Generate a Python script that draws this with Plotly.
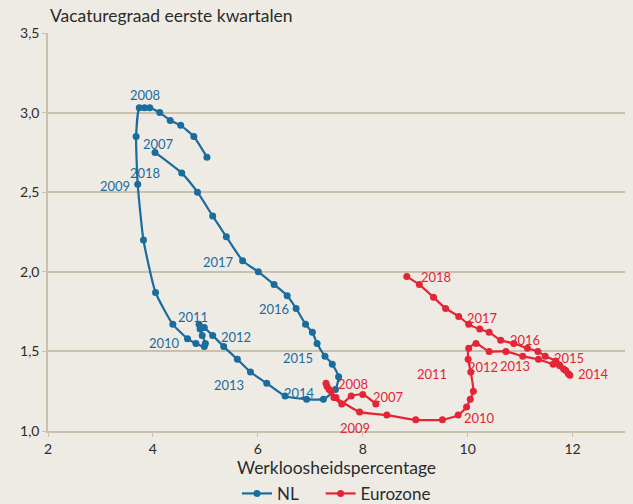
import plotly.graph_objects as go

# NL: werkloosheid (x) en vacaturegraad (y), chronologisch
nl_x = [5.03, 4.78, 4.53, 4.33, 4.13, 3.94, 3.84, 3.74, 3.68, 3.71, 3.82, 4.05, 4.38, 4.66, 4.82, 4.98,
        5.00, 4.94, 4.90, 4.88, 4.98, 5.14, 5.35, 5.61, 5.86, 6.17, 6.52, 6.93, 7.25, 7.48, 7.54, 7.42,
        7.28, 7.13, 7.04, 6.91, 6.73, 6.56, 6.31, 6.01, 5.71, 5.40, 5.14, 4.85, 4.55, 4.04]
nl_y = [2.72, 2.85, 2.92, 2.95, 3.00, 3.03, 3.03, 3.03, 2.85, 2.55, 2.20, 1.87, 1.67, 1.58, 1.55, 1.53,
        1.55, 1.60, 1.64, 1.67, 1.65, 1.60, 1.53, 1.45, 1.37, 1.30, 1.22, 1.20, 1.20, 1.26, 1.34, 1.42,
        1.47, 1.55, 1.62, 1.67, 1.77, 1.85, 1.92, 2.00, 2.07, 2.22, 2.35, 2.50, 2.62, 2.75]

# Eurozone
ez_x = [8.25, 8.00, 7.78, 7.60, 7.45, 7.36, 7.30, 7.32, 7.40, 7.49, 7.94, 8.46, 9.01, 9.52, 9.82, 9.98,
        10.05, 10.11, 10.06, 10.01, 10.02, 10.16, 10.41, 10.73, 11.05, 11.35, 11.63, 11.75, 11.83, 11.92,
        11.95, 11.87, 11.76, 11.68, 11.48, 11.34, 11.14, 10.88, 10.63, 10.41, 10.23, 10.02, 9.83, 9.58,
        9.35, 9.08, 8.84]
ez_y = [1.17, 1.23, 1.22, 1.17, 1.21, 1.26, 1.30, 1.28, 1.25, 1.21, 1.12, 1.10, 1.07, 1.07, 1.10, 1.15,
        1.20, 1.25, 1.37, 1.45, 1.52, 1.55, 1.50, 1.50, 1.47, 1.45, 1.42, 1.415, 1.39, 1.36,
        1.35, 1.38, 1.41, 1.44, 1.47, 1.50, 1.52, 1.55, 1.57, 1.62, 1.64, 1.67, 1.72, 1.77,
        1.84, 1.92, 1.97]

# Jaarlabels
nl_lbl_text = ["2008", "2007", "2018", "2009", "2017", "2011", "2010", "2012", "2013", "2016", "2015", "2014"]
nl_lbl_x = [3.85, 4.10, 3.84, 3.28, 5.25, 4.77, 4.22, 5.59, 5.46, 6.30, 6.76, 6.79]
nl_lbl_y = [3.108, 2.80, 2.62, 2.54, 2.06, 1.715, 1.555, 1.59, 1.29, 1.765, 1.46, 1.24]

ez_lbl_text = ["2008", "2007", "2009", "2011", "2012", "2010", "2013", "2014", "2015", "2016", "2017", "2018"]
ez_lbl_x = [7.81, 8.49, 7.85, 9.33, 10.29, 10.23, 10.91, 12.39, 11.94, 11.09, 10.29, 9.39]
ez_lbl_y = [1.296, 1.216, 1.02, 1.36, 1.40, 1.08, 1.41, 1.36, 1.46, 1.57, 1.71, 1.97]

x_ticks = [2, 4, 6, 8, 10, 12]
y_ticks = [1.0, 1.5, 2.0, 2.5, 3.0, 3.5]

BLUE = "#1a6c9c"
RED = "#e42535"
BG = "#eeebe5"
GRID = "#c9c0ae"
TXT = "#2b2b2b"
FONT = "Lato"

fig = go.Figure()
fig.add_trace(go.Scatter(x=nl_x, y=nl_y, mode="lines+markers", name="NL\u00a0\u00a0\u00a0\u00a0",
                         line=dict(color=BLUE, width=2.2, shape="spline", smoothing=0.5),
                         marker=dict(color=BLUE, size=7)))
fig.add_trace(go.Scatter(x=ez_x, y=ez_y, mode="lines+markers", name="Eurozone",
                         line=dict(color=RED, width=2.2, shape="spline", smoothing=0.5),
                         marker=dict(color=RED, size=7)))

anns = []
for t, x, y in zip(nl_lbl_text, nl_lbl_x, nl_lbl_y):
    anns.append(dict(x=x, y=y, text=t, showarrow=False, xref="x", yref="y",
                     font=dict(family=FONT, size=13, color=BLUE)))
for t, x, y in zip(ez_lbl_text, ez_lbl_x, ez_lbl_y):
    anns.append(dict(x=x, y=y, text=t, showarrow=False, xref="x", yref="y",
                     font=dict(family=FONT, size=13, color=RED)))
anns.append(dict(x=0, y=1, xref="paper", yref="paper", xanchor="left", yanchor="bottom",
                 yshift=5, text="Vacaturegraad eerste kwartalen", showarrow=False,
                 font=dict(family=FONT, size=17.5, color=TXT)))
anns.append(dict(x=0.5, y=-0.0905, xref="paper", yref="paper", xanchor="center", yanchor="middle",
                 text="Werkloosheidspercentage", showarrow=False,
                 font=dict(family=FONT, size=17.5, color=TXT)))

fig.update_layout(
    width=633, height=504,
    margin=dict(l=48, r=8, t=33, b=73, autoexpand=False),
    paper_bgcolor=BG, plot_bgcolor=BG,
    separators=",.",
    font=dict(family=FONT, size=14, color=TXT),
    showlegend=True,
    legend=dict(orientation="h", x=0.5, xanchor="center", y=-0.158, yanchor="middle",
                itemwidth=30,
                font=dict(family=FONT, size=17, color=TXT), bgcolor="rgba(0,0,0,0)"),
    annotations=anns,
)
fig.update_xaxes(range=[2, 13], tickvals=x_ticks, showgrid=False, zeroline=False,
                 showline=True, linecolor=GRID, linewidth=1.5, automargin=False,
                 ticks="outside", ticklen=4, tickcolor=GRID,
                 tickfont=dict(family=FONT, size=14, color=TXT))
fig.update_yaxes(range=[1, 3.5], tickvals=y_ticks, tickformat=".1f", showgrid=True,
                 gridcolor=GRID, gridwidth=1.5, zeroline=False,
                 showline=True, linecolor=GRID, linewidth=1.5, automargin=False,
                 ticks="outside", ticklen=4, tickcolor=GRID,
                 tickfont=dict(family=FONT, size=14, color=TXT))

fig.write_html("out.html", config={"displayModeBar": False},
               post_script="document.body.style.margin='0';document.body.style.background='#eeebe5';"
                           "document.body.style.overflow='hidden';")
